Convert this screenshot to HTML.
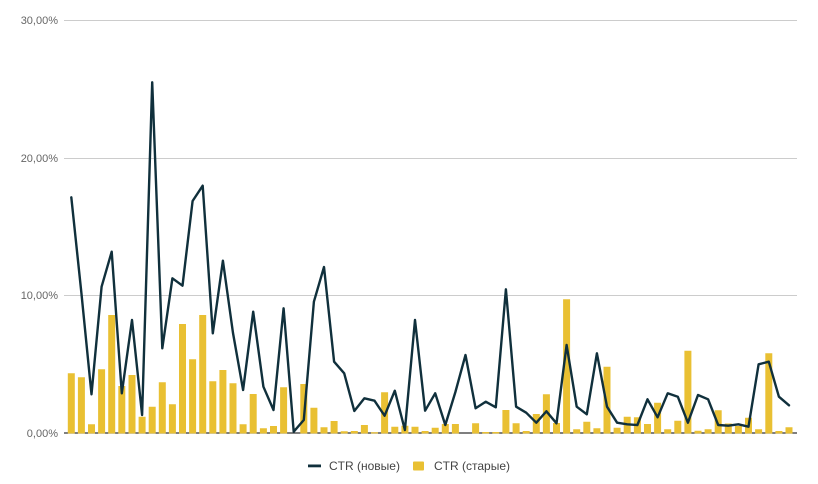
<!DOCTYPE html>
<html><head><meta charset="utf-8"><style>
html,body{margin:0;padding:0;background:#fff;}
svg{display:block;}
text{font-family:"Liberation Sans",sans-serif;}
</style></head><body>
<svg width="818" height="484" viewBox="0 0 818 484" xmlns="http://www.w3.org/2000/svg">
<rect width="818" height="484" fill="#fff"/>
<g stroke="#cccccc" stroke-width="1">
<line x1="64" y1="20.5" x2="797" y2="20.5"/>
<line x1="64" y1="158.5" x2="797" y2="158.5"/>
<line x1="64" y1="295.5" x2="797" y2="295.5"/>
</g>
<line x1="64" y1="433" x2="797" y2="433" stroke="#333" stroke-width="1.2"/>
<g font-size="11" fill="#666" text-anchor="end">
<text x="58" y="24">30,00%</text>
<text x="58" y="162">20,00%</text>
<text x="58" y="299">10,00%</text>
<text x="58" y="437">0,00%</text>
</g>
<path fill="#e9c033" d="M67.8,433.5V373.3h7V433.5Z M77.9,433.5V377.3h7V433.5Z M88,433.5V424.3h7V433.5Z M98.1,433.5V369.3h7V433.5Z M108.2,433.5V315h7V433.5Z M118.3,433.5V386h7V433.5Z M128.5,433.5V375h7V433.5Z M138.6,433.5V416.7h7V433.5Z M148.7,433.5V406.7h7V433.5Z M158.8,433.5V382.3h7V433.5Z M168.9,433.5V404.3h7V433.5Z M179,433.5V324h7V433.5Z M189.1,433.5V359.3h7V433.5Z M199.2,433.5V315h7V433.5Z M209.3,433.5V381.3h7V433.5Z M219.4,433.5V370h7V433.5Z M229.5,433.5V383.3h7V433.5Z M239.6,433.5V424.3h7V433.5Z M249.7,433.5V394h7V433.5Z M259.9,433.5V428.3h7V433.5Z M270,433.5V426h7V433.5Z M280.1,433.5V387.3h7V433.5Z M300.3,433.5V384h7V433.5Z M310.4,433.5V407.7h7V433.5Z M320.5,433.5V427.3h7V433.5Z M330.6,433.5V421h7V433.5Z M340.7,433.5V431.3h7V433.5Z M350.8,433.5V431h7V433.5Z M360.9,433.5V425h7V433.5Z M371,433.5V432.3h7V433.5Z M381.1,433.5V392.3h7V433.5Z M391.3,433.5V426.7h7V433.5Z M401.4,433.5V425.7h7V433.5Z M411.5,433.5V426.7h7V433.5Z M421.6,433.5V431h7V433.5Z M431.7,433.5V427.7h7V433.5Z M441.8,433.5V424h7V433.5Z M451.9,433.5V424h7V433.5Z M472.1,433.5V423.3h7V433.5Z M482.2,433.5V432h7V433.5Z M492.3,433.5V432h7V433.5Z M502.4,433.5V410h7V433.5Z M512.6,433.5V423.3h7V433.5Z M522.7,433.5V431h7V433.5Z M532.8,433.5V414h7V433.5Z M542.9,433.5V394.3h7V433.5Z M553,433.5V423h7V433.5Z M563.1,433.5V299.3h7V433.5Z M573.2,433.5V429.3h7V433.5Z M583.3,433.5V421.7h7V433.5Z M593.4,433.5V428.3h7V433.5Z M603.5,433.5V366.7h7V433.5Z M613.6,433.5V427.7h7V433.5Z M623.7,433.5V416.7h7V433.5Z M633.9,433.5V417.3h7V433.5Z M644,433.5V424h7V433.5Z M654.1,433.5V402.7h7V433.5Z M664.2,433.5V429.3h7V433.5Z M674.3,433.5V420.7h7V433.5Z M684.4,433.5V350.7h7V433.5Z M694.5,433.5V430.7h7V433.5Z M704.6,433.5V429.3h7V433.5Z M714.7,433.5V410.3h7V433.5Z M724.8,433.5V423.5h7V433.5Z M734.9,433.5V426h7V433.5Z M745,433.5V417.7h7V433.5Z M755.1,433.5V429.3h7V433.5Z M765.3,433.5V353.3h7V433.5Z M775.4,433.5V431h7V433.5Z M785.5,433.5V427.3h7V433.5Z"/>
<polyline fill="none" stroke="#10303c" stroke-width="2.4" stroke-linejoin="round" stroke-linecap="round" points="71.3,197.3 81.4,293 91.5,394.3 101.6,286.7 111.7,251.7 121.8,393.3 132,320 142.1,415 152.2,82.3 162.3,348.3 172.4,278.3 182.5,285.7 192.6,201 202.7,185.7 212.8,333.3 222.9,260.7 233,333 243.1,390 253.2,311.7 263.4,386.7 273.5,410 283.6,308.3 293.7,431.7 303.8,420 313.9,301.7 324,267 334.1,361.7 344.2,373.3 354.3,411 364.4,398.3 374.5,400.7 384.6,415.7 394.8,390.7 404.9,430 415,320 425.1,410.7 435.2,393.3 445.3,425 455.4,392 465.5,355 475.6,408.3 485.7,401.7 495.8,407.3 505.9,289.3 516.1,406.7 526.2,412.7 536.3,422.7 546.4,411.3 556.5,423.3 566.6,345 576.7,406.7 586.8,414.3 596.9,353.3 607,406.7 617.1,422.7 627.2,424.3 637.4,425 647.5,399.3 657.6,417.3 667.7,393.3 677.8,396.7 687.9,422.7 698,395 708.1,399.3 718.2,425 728.3,425.7 738.4,424.3 748.5,426.7 758.6,364.3 768.8,361.7 778.9,396.7 789,405.3"/>
<rect x="308" y="464.5" width="13" height="2.8" fill="#10303c"/>
<text x="329" y="470" font-size="12" fill="#444">CTR (новые)</text>
<rect x="413" y="461.5" width="11" height="9" rx="1" fill="#e9c033"/>
<text x="434" y="470" font-size="12" fill="#444">CTR (старые)</text>
</svg>
</body></html>
